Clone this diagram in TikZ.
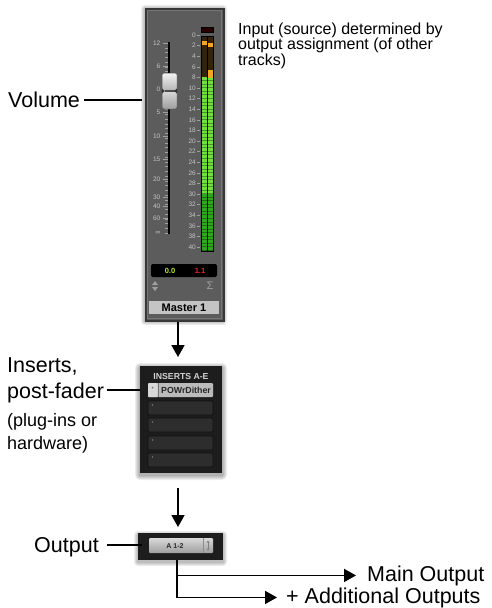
\documentclass[tikz,border=0pt]{standalone}
\usepackage{fontspec}
\setmainfont{Liberation Sans}
\usetikzlibrary{arrows.meta}
\definecolor{stripbg}{HTML}{5C5C5C}
\definecolor{stripedge}{HTML}{383838}
\definecolor{stripin}{HTML}{767676}
\definecolor{scaletxt}{HTML}{C4C4C4}
\definecolor{meterbg}{HTML}{33230C}
\definecolor{greenhi}{HTML}{72E03C}
\definecolor{greenlo}{HTML}{2DAA1C}
\definecolor{peak}{HTML}{F2A81E}
\definecolor{cntgreen}{HTML}{B8E830}
\definecolor{cntred}{HTML}{E82828}
\definecolor{namebg}{HTML}{C4C4C4}
\definecolor{insbg}{HTML}{1D1D1D}
\definecolor{slotbg}{HTML}{2D2D2D}
\definecolor{slotedge}{HTML}{111111}
\definecolor{slothi}{HTML}{BBBBBB}
\definecolor{iconcol}{HTML}{A0A0A0}
\begin{document}
\begin{tikzpicture}[x=1pt,y=-1pt,
  lbl/.style={inner sep=0pt, anchor=base west, font=\fontsize{21.5}{24}\selectfont},
  sml/.style={inner sep=0pt, anchor=base west, font=\fontsize{18}{20}\selectfont},
  note/.style={inner sep=0pt, anchor=base west, font=\fontsize{16}{19}\selectfont},
  scl/.style={inner sep=0pt, anchor=east, text=scaletxt, font=\fontsize{6.5}{7}\selectfont},
  conn/.style={line width=1.5pt},
  arr/.style={line width=1.7pt, -{Triangle[length=12pt,width=13pt]}},
  tick/.style={draw=iconcol, line width=.4pt},
  slot/.style={fill=slotbg, draw=slotedge, line width=.8pt, rounded corners=1pt},
  shadowbox/.style={fill=black, opacity=.07}
]
\useasboundingbox (0,0) rectangle (491,608);

% ---------------- Master strip ----------------
\foreach \s in {1,...,4} \fill[shadowbox, rounded corners=\s] (145-\s,8-\s+1) rectangle (223+\s,320+\s+1);
\node[draw=stripedge, line width=1.5pt, fill=stripbg, minimum width=78pt, minimum height=312pt,
      anchor=north west, inner sep=0pt] (strip) at (145,8) {};
\draw[stripin, line width=.6pt] (146.8,9.8) rectangle (221.2,318.2);

% fader scale
\foreach \v/\y in {12/43,6/66,0/89,5/112,10/136,15/159,20/179,30/197,40/206,60/218}
  {\node[scl] at (160.5,\y) {\v};
   \draw[tick] (162.5,\y) -- (167.5,\y);}
\node[scl] at (160.5,233) {∞};
\foreach \t in {0,...,40} \draw[tick] (165,{43+\t*4.75}) -- (167.5,{43+\t*4.75});
\draw[black, line width=1.4pt] (169,42) -- (169,234);
% fader cap
\shade[top color=white!95!black, bottom color=black!30, rounded corners=1.5pt]
  (162,73) rectangle (177,91);
\shade[top color=white!85!black, bottom color=black!38, rounded corners=1.5pt]
  (162,91) rectangle (177,109);
\draw[black!70, line width=.5pt, rounded corners=1.5pt] (162,73) rectangle (177,109);
\fill[black!70] (164.5,89.8) rectangle (174.5,92.2);
\fill[black!80] (162,88.5) -- (164.8,91) -- (162,93.5) -- cycle;
\fill[black!80] (177,88.5) -- (174.2,91) -- (177,93.5) -- cycle;

% meter scale
\foreach \i in {0,...,20}
  {\pgfmathtruncatemacro{\lab}{2*\i}
   \node[scl] at (196,{35+10.6*\i}) {\lab};
   \draw[tick] (197,{35+10.6*\i}) -- (200,{35+10.6*\i});}
% meter
\fill[meterbg] (201,36) rectangle (213,251);
\fill[greenhi] (201,77) rectangle (207,194);
\fill[greenhi] (207,78) rectangle (213,194);
\fill[greenlo] (201,194) rectangle (213,251);
\fill[peak] (201,41) rectangle (207,45);
\fill[peak] (207,43) rectangle (213,47);
\fill[peak] (207,70) rectangle (213,78);
\foreach \k in {1,...,49} \draw[black, opacity=.35, line width=.35pt] (201,{77+\k*3.53}) -- (213,{77+\k*3.53});
\draw[black, line width=.8pt] (201,36) rectangle (213,251);
\draw[black, line width=.8pt] (207,36) -- (207,251);
% clip indicator
\fill[black!85!red, draw=black, line width=.4pt] (201,27) rectangle (213,32);

% counter
\fill[black, rounded corners=2pt] (151,264) rectangle (217,277);
\node[inner sep=0pt, text=cntgreen, font=\bfseries\fontsize{7.5}{8}\selectfont] (cnt1) at (170,270.5) {0.0};
\node[inner sep=0pt, text=cntred, font=\bfseries\fontsize{7.5}{8}\selectfont] (cnt2) at (200,270.5) {1.1};
% up/down icon and sigma
\fill[iconcol] (152,285) -- (158,285) -- (155,281) -- cycle;
\fill[iconcol] (152,287) -- (158,287) -- (155,291) -- cycle;
\node[inner sep=0pt, text=iconcol, font=\fontsize{11}{12}\selectfont] (sig) at (210,286) {Σ};
% name
\fill[namebg] (149,301) rectangle (219,314);
\node[inner sep=0pt, font=\bfseries\fontsize{11}{12}\selectfont] (name) at (184,307.8) {Master 1};

% ---------------- Labels top ----------------
\node[lbl] (vol) at (8,107) {Volume};
\coordinate (volend) at (142,100);
\draw[conn] ([xshift=4pt]vol.east |- volend) -- (volend);

\node[note] (in1) at (238,34) {Input (source) determined by};
\node[note] (in2) at (238,49.6) {output assignment (of other};
\node[note] (in3) at (238,65.2) {tracks)};

% ---------------- Inserts ----------------
\foreach \s in {1,...,5} \fill[shadowbox, rounded corners=\s] (140-\s,366-\s+2) rectangle (222+\s,473+\s+2);
\node[fill=insbg, minimum width=82pt, minimum height=107pt, anchor=north west, inner sep=0pt] (ins) at (140,366) {};
\node[inner sep=0pt, text=white!82!black, font=\bfseries\fontsize{8.7}{9}\selectfont] (instit) at (181,377) {INSERTS A-E};
\fill[slothi, rounded corners=1pt] (148,383) rectangle (213,397);
\fill[white!85!black, rounded corners=1pt] (148,383) rectangle (157.5,397);
\draw[black!55, line width=.5pt] (157.8,383) -- (157.8,397);
\fill[black!55] (152.5,387.5) circle (1pt);
\node[inner sep=0pt, font=\bfseries\fontsize{8.8}{9}\selectfont, text=black!85] (pow) at (186,390.3) {POWrDither};
\foreach \y in {401,418,436,453}
  {\draw[slot] (148,\y) rectangle (213,\y+14);
   \fill[black!55!white] (152.5,\y+4) circle (.9pt);}

\node[lbl] (ins1) at (7,372) {Inserts,};
\node[lbl] (ins2) at (7,398) {post-fader};
\node[sml] (ins3) at (7,426) {(plug-ins or};
\node[sml] (ins4) at (7,449) {hardware)};
\coordinate (insend) at (140,390);
\draw[conn] ([xshift=3pt]ins2.east |- insend) -- (insend);

% ---------------- Output ----------------
\foreach \s in {1,...,4} \fill[shadowbox, rounded corners=\s] (138-\s,533-\s+2) rectangle (223+\s,560+\s+2);
\node[fill=insbg, minimum width=85pt, minimum height=27pt, anchor=north west, inner sep=0pt] (outbox) at (138,533) {};
\shade[top color=white!85!black, bottom color=white!62!black, rounded corners=1pt] (149,538) rectangle (213,553);
\draw[black!45, line width=.5pt] (203,538) -- (203,553);
\node[inner sep=0pt, font=\bfseries\fontsize{7}{8}\selectfont, text=black!85] (a12) at (175,545.8) {A 1-2};
\draw[black!50, line width=.5pt] (208,541.5) -- (208,549.5);
\fill[black!50] (206.5,542.5) -- (209.5,542.5) -- (208,540.5) -- cycle;
\fill[black!50] (206.5,548.5) -- (209.5,548.5) -- (208,550.5) -- cycle;

\node[lbl] (outl) at (34,552) {Output};
\coordinate (outend) at (142,545);
\draw[conn] ([xshift=8pt]outl.east |- outend) -- (outend);

\node[lbl] (mainout) at (367,581) {Main Output};
\node[lbl] (addout) at (286,603) {+ Additional Outputs};

% ---------------- Connectors ----------------
\coordinate (ax) at (178,0);
\draw[arr, shorten >=9pt] (strip.south -| ax) -- (ins.north -| ax);
\draw[arr, shorten <=15pt, shorten >=6pt] (ins.south -| ax) -- (outbox.north -| ax);
\coordinate (bx) at (177,0);
\draw[arr, shorten >=11pt] (outbox.south -| bx) |- (mainout.west);
\draw[arr, shorten >=9pt] (outbox.south -| bx) |- (addout.west);
\end{tikzpicture}
\end{document}
